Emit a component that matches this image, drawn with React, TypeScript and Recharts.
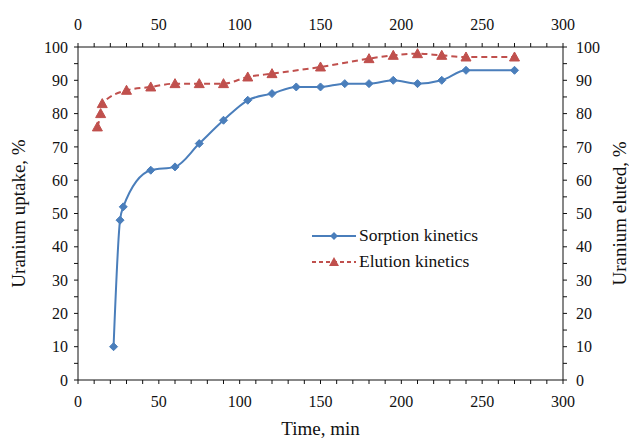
import React from 'react';
import { ComposedChart, Line, XAxis, YAxis, Label } from 'recharts';

// Sorption kinetics (left axis)
const sorptionTime = [22, 26, 28, 45, 60, 75, 90, 105, 120, 135, 150, 165, 180, 195, 210, 225, 240, 270];
const sorptionUptake = [10, 48, 52, 63, 64, 71, 78, 84, 86, 88, 88, 89, 89, 90, 89, 90, 93, 93];

// Elution kinetics (secondary axes: top / right)
const elutionTime = [12, 14, 15, 30, 45, 60, 75, 90, 105, 120, 150, 180, 195, 210, 225, 240, 270];
const elutionEluted = [76, 80, 83, 87, 88, 89, 89, 89, 91, 92, 94, 96.5, 97.5, 98, 97.5, 97, 97];

const xTicks = [0, 10, 20, 30, 40, 50, 60, 70, 80, 90, 100, 110, 120, 130, 140, 150, 160, 170, 180, 190, 200, 210, 220, 230, 240, 250, 260, 270, 280, 290, 300];
const yTicks = [0, 5, 10, 15, 20, 25, 30, 35, 40, 45, 50, 55, 60, 65, 70, 75, 80, 85, 90, 95, 100];

const BLUE = '#4A7EBB';
const RED = '#C0504D';
const FONT = '"Times New Roman", Times, "Liberation Serif", "DejaVu Serif", serif';

const sorptionData = sorptionTime.map((t, i) => ({ t, v: sorptionUptake[i] }));
const elutionData = elutionTime.map((t, i) => ({ t, v: elutionEluted[i] }));

const tickStyle = { fill: '#111', fontSize: 16, fontFamily: FONT };
const axisLine = { stroke: '#111', strokeWidth: 1 };
const titleStyle = { fill: '#111', fontSize: 19, fontFamily: FONT };

const xFmt = (v: number) => (v % 50 === 0 ? String(v) : '');
const yFmt = (v: number) => (v % 10 === 0 ? String(v) : '');

function Diamond(props: any) {
  const { cx, cy, index } = props;
  if (cx == null || cy == null) return null;
  const s = 4;
  return (
    <polygon
      key={`d${index}`}
      points={`${cx},${cy - s} ${cx + s},${cy} ${cx},${cy + s} ${cx - s},${cy}`}
      fill={BLUE}
      stroke={BLUE}
    />
  );
}

function Triangle(props: any) {
  const { cx, cy, index } = props;
  if (cx == null || cy == null) return null;
  const s = 5;
  return (
    <polygon
      key={`t${index}`}
      points={`${cx},${cy - s} ${cx + s},${cy + s * 0.8} ${cx - s},${cy + s * 0.8}`}
      fill={RED}
      stroke={RED}
    />
  );
}

function LegendBox() {
  const rows = [
    { name: 'Sorption kinetics', color: BLUE, dash: undefined, marker: 'd' },
    { name: 'Elution kinetics', color: RED, dash: '4 3', marker: 't' },
  ];
  return (
    <div
      style={{
        position: 'absolute',
        left: 310,
        top: 223,
        fontFamily: FONT,
        fontSize: 17.5,
        color: '#111',
        lineHeight: 1,
      }}
    >
      {rows.map((r) => (
        <div key={r.name} style={{ display: 'flex', alignItems: 'center', height: 26 }}>
          <svg width={48} height={14} style={{ marginRight: 1 }}>
            <line x1={2} y1={7} x2={46} y2={7} stroke={r.color} strokeWidth={2} strokeDasharray={r.dash} />
            {r.marker === 'd' ? (
              <polygon points="24,3 28,7 24,11 20,7" fill={r.color} />
            ) : (
              <polygon points="24,2 29,11 19,11" fill={r.color} />
            )}
          </svg>
          <span>{r.name}</span>
        </div>
      ))}
    </div>
  );
}

export default function App() {
  return (
    <div
      style={{
        position: 'absolute',
        left: 0,
        top: 0,
        width: 629,
        height: 440,
        background: '#fff',
        fontFamily: FONT,
      }}
    >
      <ComposedChart width={629} height={440} margin={{ top: 0, right: 0, bottom: 0, left: 0 }}>
        <XAxis
          xAxisId="b"
          type="number"
          dataKey="t"
          domain={[0, 300]}
          ticks={xTicks}
          interval={0}
          tickFormatter={xFmt}
          height={60}
          tickSize={4}
          tickMargin={12}
          tick={tickStyle}
          axisLine={axisLine}
          tickLine={axisLine}
        >
          <Label value="Time, min" position="insideBottom" offset={5} style={titleStyle} />
        </XAxis>
        <XAxis
          xAxisId="t"
          orientation="top"
          type="number"
          dataKey="t"
          domain={[0, 300]}
          ticks={xTicks}
          interval={0}
          tickFormatter={xFmt}
          height={47}
          tickSize={4}
          tickMargin={13}
          tick={tickStyle}
          axisLine={axisLine}
          tickLine={axisLine}
        />
        <YAxis
          yAxisId="l"
          type="number"
          domain={[0, 100]}
          ticks={yTicks}
          interval={0}
          tickFormatter={yFmt}
          width={78}
          tickSize={4}
          tickMargin={6}
          tick={tickStyle}
          axisLine={axisLine}
          tickLine={axisLine}
        >
          <Label
            value="Uranium uptake, %"
            angle={-90}
            position="insideLeft"
            offset={18}
            style={{ ...titleStyle, textAnchor: 'middle' }}
          />
        </YAxis>
        <YAxis
          yAxisId="r"
          orientation="right"
          type="number"
          domain={[0, 100]}
          ticks={yTicks}
          interval={0}
          tickFormatter={yFmt}
          width={66}
          tickSize={4}
          tickMargin={9}
          tick={tickStyle}
          axisLine={axisLine}
          tickLine={axisLine}
        >
          <Label
            value="Uranium eluted, %"
            angle={-90}
            position="insideRight"
            offset={10}
            style={{ ...titleStyle, textAnchor: 'middle' }}
          />
        </YAxis>
        <Line
          xAxisId="b"
          yAxisId="l"
          data={sorptionData}
          dataKey="v"
          type="monotone"
          stroke={BLUE}
          strokeWidth={2}
          dot={<Diamond />}
          activeDot={false}
          isAnimationActive={false}
          name="Sorption kinetics"
        />
        <Line
          xAxisId="t"
          yAxisId="r"
          data={elutionData}
          dataKey="v"
          type="monotone"
          stroke={RED}
          strokeWidth={2}
          strokeDasharray="6 4"
          dot={<Triangle />}
          activeDot={false}
          isAnimationActive={false}
          name="Elution kinetics"
        />
      </ComposedChart>
      <LegendBox />
    </div>
  );
}
